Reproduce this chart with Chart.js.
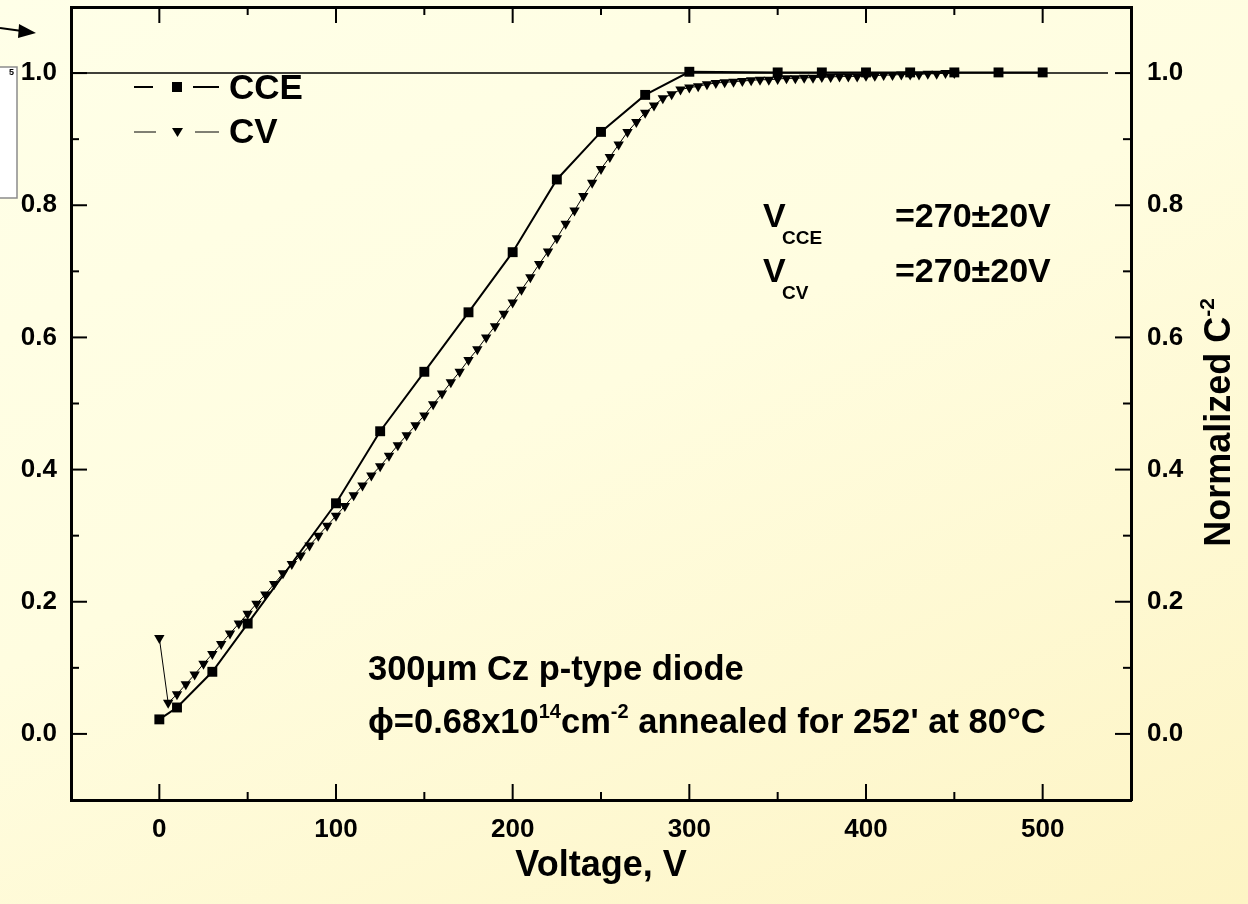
<!DOCTYPE html>
<html>
<head>
<meta charset="utf-8">
<script src="https://cdn.jsdelivr.net/npm/chart.js@4.4.0/dist/chart.umd.min.js"></script>
<style>
  html, body { margin: 0; padding: 0; }
  body {
    width: 1248px; height: 904px; overflow: hidden;
    background: linear-gradient(155deg, #ffffe8 0%, #fffde0 45%, #fdf4c4 100%);
  }
  #wrap { width: 1248px; height: 904px; position: relative; }
</style>
</head>
<body>
<div id="wrap"><canvas id="myChart"></canvas></div>
<script>
// CCE measurement (squares)
const cceVoltage = [0, 10, 30, 50, 100, 125, 150, 175, 200, 225, 250, 275, 300, 350, 375, 400, 425, 450, 475, 500]
const cceValue = [0.022, 0.040, 0.094, 0.167, 0.349, 0.458, 0.548, 0.638, 0.729, 0.839, 0.911, 0.967, 1.002,
  1.001, 1.001, 1.001, 1.001, 1.001, 1.001, 1.001]

// CV measurement, normalized C^-2 (triangles)
const cvVoltage = [0, 5, 10, 15, 20, 25, 30, 35, 40, 45, 50, 55, 60, 65, 70, 75, 80, 85, 90, 95,
  100, 105, 110, 115, 120, 125, 130, 135, 140, 145, 150, 155, 160, 165, 170, 175, 180, 185, 190, 195,
  200, 205, 210, 215, 220, 225, 230, 235, 240, 245, 250, 255, 260, 265, 270, 275, 280, 285, 290, 295,
  300, 305, 310, 315, 320, 325, 330, 335, 340, 345, 350, 355, 360, 365, 370, 375, 380, 385, 390, 395,
  400, 405, 410, 415, 420, 425, 430, 435, 440, 445, 450]
const cvValue = [0.145, 0.047, 0.060, 0.075, 0.090, 0.106, 0.121, 0.136, 0.152, 0.167, 0.182, 0.197, 0.211, 0.227, 0.243, 0.257, 0.270, 0.285, 0.300, 0.315,
  0.330, 0.345, 0.361, 0.376, 0.391, 0.405, 0.421, 0.437, 0.452, 0.467, 0.482, 0.499, 0.515, 0.532, 0.548, 0.566, 0.582, 0.600, 0.617, 0.636,
  0.653, 0.672, 0.691, 0.711, 0.730, 0.750, 0.772, 0.792, 0.814, 0.834, 0.855, 0.873, 0.892, 0.911, 0.926, 0.940, 0.951, 0.962, 0.968, 0.975,
  0.978, 0.980, 0.983, 0.985, 0.986, 0.987, 0.988, 0.989, 0.990, 0.990, 0.991, 0.992, 0.992, 0.993, 0.993, 0.994, 0.994, 0.995, 0.995, 0.995,
  0.996, 0.996, 0.997, 0.997, 0.998, 0.998, 0.998, 0.999, 0.999, 1.000, 1.000]

// reference level at 1.0
const refVoltage = [-50, 537]
const refValue = [1, 1]

// ticks
const xTicks = [0, 100, 200, 300, 400, 500]
const xMinor = [50, 150, 250, 350, 450]
const yTicks = [0, 0.2, 0.4, 0.6, 0.8, 1.0]
const yMinor = [0.1, 0.3, 0.5, 0.7, 0.9]

const FONT = "'Liberation Sans', Arial, Helvetica, sans-serif"
const toPoints = (xs, ys) => xs.map((v, i) => ({ x: v, y: ys[i] }))

// writes pieces of text one after another: [text, size, raise]
const drawRuns = (ctx, x, y, runs) => {
  runs.forEach(([t, size, dy]) => {
    ctx.font = `bold ${size}px ${FONT}`
    ctx.fillText(t, x, y - dy)
    x += ctx.measureText(t).width
  })
  return x
}
const runsWidth = (ctx, runs) => runs.reduce((w, [t, size]) => {
  ctx.font = `bold ${size}px ${FONT}`
  return w + ctx.measureText(t).width
}, 0)

const decorations = {
  id: 'decorations',
  beforeDraw(chart) {
    const ctx = chart.ctx
    ctx.save()
    // leftovers of the slide at the left edge
    ctx.fillStyle = '#ffffff'
    ctx.fillRect(0, 67, 17, 131)
    ctx.strokeStyle = '#8c8c8c'
    ctx.lineWidth = 1.5
    ctx.beginPath()
    ctx.moveTo(0, 67); ctx.lineTo(17, 67); ctx.lineTo(17, 198); ctx.lineTo(0, 198)
    ctx.stroke()
    ctx.fillStyle = '#000'
    ctx.font = `bold 9px ${FONT}`
    ctx.fillText('5', 9, 75)
    ctx.strokeStyle = '#000'
    ctx.lineWidth = 2
    ctx.beginPath(); ctx.moveTo(0, 28); ctx.lineTo(22, 31); ctx.stroke()
    ctx.beginPath(); ctx.moveTo(36, 33); ctx.lineTo(19, 24); ctx.lineTo(18, 38); ctx.closePath(); ctx.fill()
    ctx.restore()
  },
  afterDraw(chart) {
    const { ctx, chartArea: a, scales: { x, y } } = chart
    ctx.save()
    ctx.strokeStyle = '#000'
    ctx.fillStyle = '#000'
    ctx.lineWidth = 2
    const seg = (x1, y1, x2, y2) => { ctx.beginPath(); ctx.moveTo(x1, y1); ctx.lineTo(x2, y2); ctx.stroke() }

    // inward ticks on all four sides
    const xt = (v, len) => { const p = x.getPixelForValue(v); seg(p, a.bottom, p, a.bottom - len); seg(p, a.top, p, a.top + len) }
    const yt = (v, len) => { const p = y.getPixelForValue(v); seg(a.left, p, a.left + len, p); seg(a.right, p, a.right - len, p) }
    xTicks.forEach(v => xt(v, 16)); xMinor.forEach(v => xt(v, 8))
    yTicks.forEach(v => yt(v, 16)); yMinor.forEach(v => yt(v, 8))

    // legend
    ctx.textBaseline = 'middle'
    const [cce, cv] = chart.data.datasets
    ctx.lineWidth = 2
    seg(134, 87, 153, 87); seg(193, 87, 219, 87)
    ctx.fillRect(172, 82, 10, 10)
    ctx.lineWidth = 1
    seg(134, 132, 156, 132); seg(195, 132, 219, 132)
    ctx.beginPath(); ctx.moveTo(172, 128); ctx.lineTo(183, 128); ctx.lineTo(177.5, 137); ctx.closePath(); ctx.fill()
    ctx.font = `bold 35px ${FONT}`
    ctx.fillText(cce.label, 229, 89)
    ctx.fillText(cv.label, 229, 133)

    // text boxes
    ctx.textBaseline = 'alphabetic'
    drawRuns(ctx, 763, 227, [['V', 34, 0]])
    drawRuns(ctx, 782, 244, [['CCE', 19, 0]])
    drawRuns(ctx, 895, 227, [['=270\u00b120V', 34, 0]])
    drawRuns(ctx, 763, 282, [['V', 34, 0]])
    drawRuns(ctx, 782, 299, [['CV', 19, 0]])
    drawRuns(ctx, 895, 282, [['=270\u00b120V', 34, 0]])

    drawRuns(ctx, 368, 680, [['300\u03bcm Cz p-type diode', 34.5, 0]])
    drawRuns(ctx, 368, 733, [['\u03d5=0.68x10', 34.5, 0], ['14', 20, 15], ['cm', 34.5, 0], ['-2', 20, 15],
      [" annealed for 252' at 80\u00b0C", 34.5, 0]])

    // right axis title, read from bottom to top
    const title = [['Normalized C', 36, 0], ['-2', 21, 16]]
    const L = runsWidth(ctx, title)
    ctx.translate(1230, 298 + L)
    ctx.rotate(-Math.PI / 2)
    drawRuns(ctx, 0, 0, title)
    ctx.restore()
  }
}

// fixed axis sizes so the plot box sits where it does in the figure
const fixSize = (w, h) => scale => {
  if (w !== null) scale.width = w
  if (h !== null) scale.height = h
  scale.paddingTop = 0; scale.paddingBottom = 0
  scale.paddingLeft = 0; scale.paddingRight = 0
}

const tickFont = { family: FONT, size: 26, weight: 'bold' }

new Chart(document.getElementById('myChart'), {
  type: 'scatter',
  data: {
    datasets: [
      {
        label: 'CCE',
        data: toPoints(cceVoltage, cceValue),
        showLine: true,
        borderColor: '#000',
        borderWidth: 2,
        pointStyle: 'rect',
        pointRadius: 7,
        pointBorderWidth: 0,
        pointBackgroundColor: '#000',
      },
      {
        label: 'CV',
        data: toPoints(cvVoltage, cvValue),
        showLine: true,
        borderColor: '#000',
        borderWidth: 1,
        pointStyle: 'triangle',
        rotation: 180,
        pointRadius: 6,
        pointBorderWidth: 0,
        pointBackgroundColor: '#000',
      },
      {
        label: 'level',
        data: toPoints(refVoltage, refValue),
        showLine: true,
        borderColor: '#000',
        borderWidth: 1.5,
        pointRadius: 0,
      },
    ]
  },
  options: {
    responsive: true,
    maintainAspectRatio: false,
    animation: false,
    layout: { padding: 0 },
    plugins: { legend: { display: false }, tooltip: { enabled: false } },
    scales: {
      x: {
        type: 'linear', position: 'bottom', min: -50, max: 550,
        afterBuildTicks: s => { s.ticks = xTicks.map(v => ({ value: v })) },
        afterFit: fixSize(null, 104),
        grid: { display: false, drawTicks: false },
        border: { display: true, color: '#000', width: 3 },
        ticks: { color: '#000', font: tickFont, padding: 14, autoSkip: false, maxRotation: 0 },
        title: { display: true, text: 'Voltage, V', color: '#000',
          font: { family: FONT, size: 36, weight: 'bold' }, padding: { top: 0, bottom: 16 } },
      },
      x2: {
        type: 'linear', position: 'top', min: -50, max: 550,
        afterFit: fixSize(null, 6),
        grid: { display: false, drawTicks: false },
        border: { display: true, color: '#000', width: 3 },
        ticks: { display: false },
      },
      y: {
        type: 'linear', position: 'left', min: -0.1, max: 1.1,
        afterBuildTicks: s => { s.ticks = yTicks.map(v => ({ value: v })) },
        afterFit: fixSize(71, null),
        grid: { display: false, drawTicks: false },
        border: { display: true, color: '#000', width: 3 },
        ticks: { color: '#000', font: tickFont, padding: 14, autoSkip: false, callback: v => v.toFixed(1) },
      },
      y2: {
        type: 'linear', position: 'right', min: -0.1, max: 1.1,
        afterBuildTicks: s => { s.ticks = yTicks.map(v => ({ value: v })) },
        afterFit: fixSize(117, null),
        grid: { display: false, drawTicks: false },
        border: { display: true, color: '#000', width: 3 },
        ticks: { color: '#000', font: tickFont, padding: 16, autoSkip: false, callback: v => v.toFixed(1) },
      },
    }
  },
  plugins: [decorations]
})
</script>
</body>
</html>
